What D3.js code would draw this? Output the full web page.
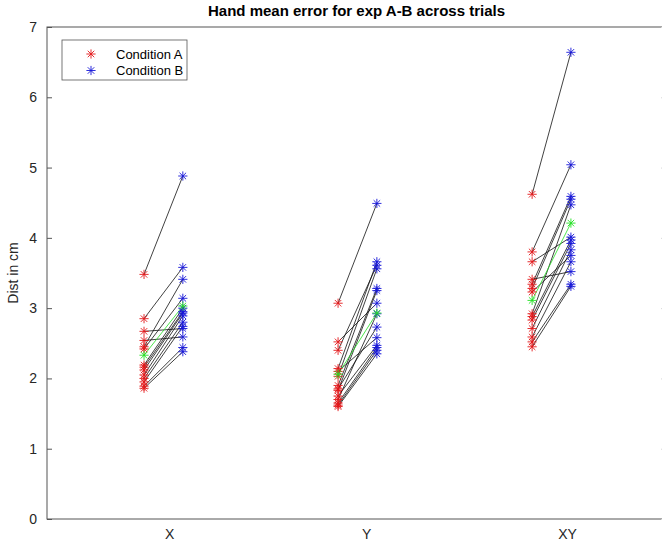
<!DOCTYPE html>
<html><head><meta charset="utf-8">
<script src="https://cdn.jsdelivr.net/npm/d3@7"></script>
<style>
html,body{margin:0;padding:0;background:#fff;}
svg{display:block;font-family:"Liberation Sans",Arial,sans-serif;}
</style></head>
<body><svg id="c" width="662" height="545"></svg>
<script>
const categories = ["X", "Y", "XY"];
const yTicks = [0, 1, 2, 3, 4, 5, 6, 7];
const labelPos = [1.03, 2.045, 3.08];
const seriesNames = ["Condition A", "Condition B"];
// per-subject values, paired by index (A -> B)
const condA = [
  [3.48, 2.85, 2.67, 2.54, 2.45, 2.42, 2.19, 2.16, 2.12, 2.05, 2.00, 1.95, 1.89, 1.86],
  [3.07, 2.52, 2.40, 2.14, 2.10, 2.03, 1.90, 1.85, 1.83, 1.75, 1.70, 1.65, 1.62, 1.60],
  [4.62, 3.80, 3.66, 3.41, 3.34, 3.28, 3.23, 2.92, 2.88, 2.83, 2.71, 2.59, 2.52, 2.45]
];
const condB = [
  [4.88, 3.58, 2.71, 2.59, 3.41, 3.14, 3.00, 2.95, 2.93, 2.89, 2.80, 2.74, 2.44, 2.38],
  [4.49, 3.07, 3.61, 3.66, 2.58, 3.56, 3.28, 2.73, 3.25, 2.47, 2.92, 2.44, 2.40, 2.35],
  [6.64, 5.04, 4.01, 3.52, 4.59, 4.55, 3.75, 4.47, 3.97, 3.92, 3.83, 3.66, 3.34, 3.31]
];
const meanA = [2.33, 2.06, 3.11];
const meanB = [3.03, 2.93, 4.21];

const svg = d3.select("#c");
const L = 47, R = 666, T = 27, B = 519;
const x = d3.scaleLinear().domain([0.4, 3.59]).range([L, R]);
const y = d3.scaleLinear().domain([0, 7]).range([B, T]);
const off = 0.1;
const axisCol = "#555", textCol = "#262626";
const colA = "#e3171a", colB = "#1616d8", colM = "#22e022";

function star(g, cx, cy, col, r = 4.6) {
  const d = r * Math.SQRT1_2;
  g.append("path")
    .attr("d", `M${cx - r},${cy}H${cx + r}M${cx},${cy - r}V${cy + r}M${cx - d},${cy - d}L${cx + d},${cy + d}M${cx - d},${cy + d}L${cx + d},${cy - d}`)
    .attr("stroke", col).attr("stroke-width", 0.9).attr("fill", "none");
}

// box
svg.append("rect").attr("x", L).attr("y", T).attr("width", R - L).attr("height", B - T)
  .attr("fill", "none").attr("stroke", axisCol).attr("stroke-width", 1);

// y axis (ticks inward)
const yAxis = d3.axisLeft(y).tickValues(yTicks).tickSize(-5).tickPadding(10).tickFormat(d3.format("d"));
const ga = svg.append("g").attr("transform", `translate(${L},0)`).call(yAxis);
ga.select(".domain").remove();
ga.selectAll("line").attr("stroke", axisCol);
ga.selectAll("text").attr("fill", textCol).style("font-size", "14px");
const gr = svg.append("g").attr("transform", `translate(${R},0)`).call(d3.axisRight(y).tickValues(yTicks).tickSize(-5).tickFormat(""));
gr.select(".domain").remove();
gr.selectAll("line").attr("stroke", "#d8d8d8");

// x axis labels
const xAxis = d3.axisBottom(x).tickValues(labelPos).tickSize(0).tickPadding(10).tickFormat((d, i) => categories[i]);
const gx = svg.append("g").attr("transform", `translate(0,${B})`).call(xAxis);
gx.select(".domain").remove();
gx.selectAll("text").attr("fill", textCol).style("font-size", "14px");

// paired lines and markers
const plot = svg.append("g");
categories.forEach((c, i) => {
  const xa = x(i + 1 - off), xb = x(i + 1 + off);
  condA[i].forEach((a, j) => {
    plot.append("line").attr("x1", xa).attr("y1", y(a)).attr("x2", xb).attr("y2", y(condB[i][j]))
      .attr("stroke", "#111").attr("stroke-width", 0.8);
  });
  plot.append("line").attr("x1", xa).attr("y1", y(meanA[i])).attr("x2", xb).attr("y2", y(meanB[i]))
    .attr("stroke", colM).attr("stroke-width", 0.8);
  condA[i].forEach(a => star(plot, xa, y(a), colA));
  condB[i].forEach(b => star(plot, xb, y(b), colB));
  star(plot, xa, y(meanA[i]), colM);
  star(plot, xb, y(meanB[i]), colM);
});

// title
svg.append("text").attr("x", (L + R) / 2).attr("y", 15.5).attr("text-anchor", "middle")
  .attr("fill", "#000").style("font-size", "15px").style("font-weight", "bold")
  .text("Hand mean error for exp A-B across trials");

// y label
svg.append("text").attr("transform", `translate(18,${(T + B) / 2}) rotate(-90)`)
  .attr("text-anchor", "middle").attr("fill", textCol).style("font-size", "14px").text("Dist in cm");

// legend
const lg = svg.append("g");
lg.append("rect").attr("x", 62).attr("y", 40).attr("width", 125).attr("height", 40)
  .attr("fill", "#fff").attr("stroke", axisCol).attr("stroke-width", 0.8);
[colA, colB].forEach((col, k) => {
  const yy = 54 + k * 16.5;
  star(lg, 91, yy, col);
  lg.append("text").attr("x", 116).attr("y", yy + 4.5).attr("fill", "#000")
    .style("font-size", "13px").text(seriesNames[k]);
});
</script>
</body></html>
